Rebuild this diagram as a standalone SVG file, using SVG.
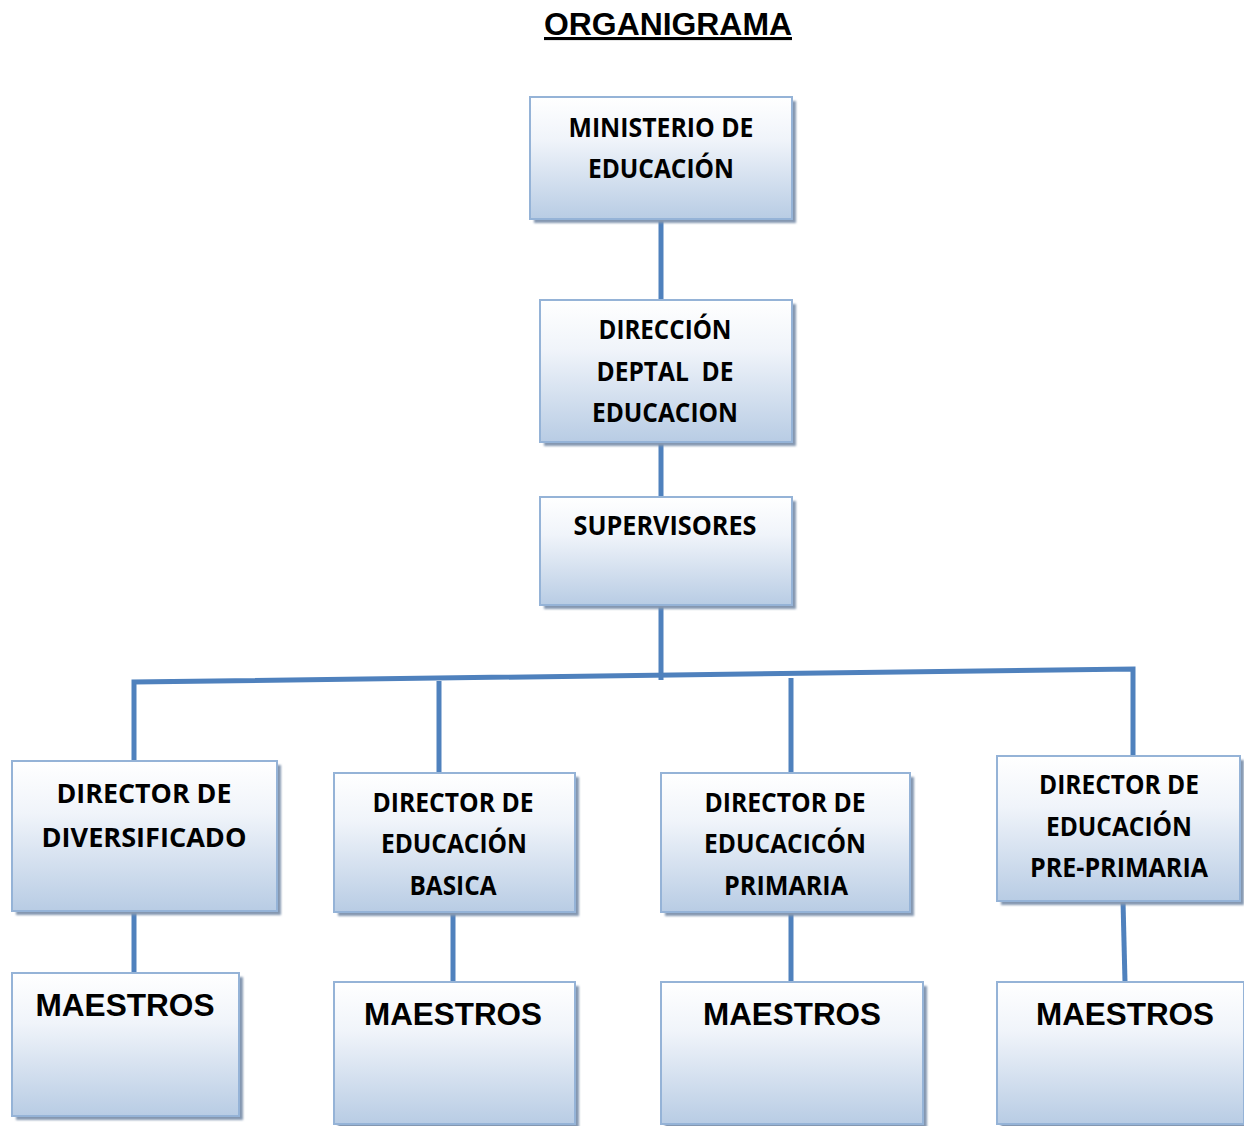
<svg xmlns="http://www.w3.org/2000/svg" width="1244" height="1126" viewBox="0 0 1244 1126">
<defs>
<linearGradient id="g" x1="0" y1="0" x2="0" y2="1">
<stop offset="0" stop-color="#ffffff"/>
<stop offset="0.35" stop-color="#f0f4fa"/>
<stop offset="1" stop-color="#b8cce4"/>
</linearGradient>
<filter id="blur" x="-5%" y="-5%" width="110%" height="110%"><feGaussianBlur stdDeviation="1"/></filter>
</defs>
<style>
.sh{fill:#8497b0;filter:url(#blur)}
.bx{fill:url(#g);stroke:#95b3d7;stroke-width:2}
.t{font-family:"Open Sans","Noto Sans",sans-serif;font-weight:bold;font-size:26px;fill:#000;text-anchor:middle}
.m{font-family:"Liberation Sans",Arial,sans-serif;font-weight:bold;font-size:32px;fill:#000;text-anchor:middle}
.c{stroke:#4f81bd;stroke-width:5;fill:none;stroke-linejoin:miter}
</style>
<rect width="1244" height="1126" fill="#fff"/>
<text x="668" y="35" font-family="Liberation Sans, Arial, sans-serif" font-weight="bold" font-size="31" text-anchor="middle" text-decoration="underline" textLength="248" lengthAdjust="spacingAndGlyphs">ORGANIGRAMA</text>

<g id="connectors">
<line class="c" x1="661" y1="219" x2="661" y2="300"/>
<line class="c" x1="661" y1="442" x2="661" y2="497"/>
<line class="c" x1="661" y1="605" x2="661" y2="680"/>
<polyline class="c" points="134,761 134,682 1133,669 1133,756"/>
<line class="c" x1="439" y1="681" x2="439" y2="773"/>
<line class="c" x1="791" y1="678" x2="791" y2="773"/>
<line class="c" x1="134" y1="911" x2="134" y2="973"/>
<line class="c" x1="453" y1="912" x2="453" y2="982"/>
<line class="c" x1="791" y1="912" x2="791" y2="982"/>
<line class="c" x1="1123" y1="901" x2="1125" y2="982"/>
</g>

<g id="ministerio">
<rect class="sh" x="534" y="101" width="262" height="122"/>
<rect class="bx" x="530" y="97" width="262" height="122"/>
<text class="t" x="661" y="137" textLength="185" lengthAdjust="spacingAndGlyphs">MINISTERIO DE</text>
<text class="t" x="661" y="178" textLength="146" lengthAdjust="spacingAndGlyphs">EDUCACIÓN</text>
</g>

<g id="direccion">
<rect class="sh" x="544" y="304" width="252" height="142"/>
<rect class="bx" x="540" y="300" width="252" height="142"/>
<text class="t" x="665" y="339" textLength="133" lengthAdjust="spacingAndGlyphs">DIRECCIÓN</text>
<text class="t" x="665" y="381" textLength="137" lengthAdjust="spacingAndGlyphs" xml:space="preserve">DEPTAL  DE</text>
<text class="t" x="665" y="422" textLength="146" lengthAdjust="spacingAndGlyphs">EDUCACION</text>
</g>

<g id="supervisores">
<rect class="sh" x="544" y="501" width="252" height="108"/>
<rect class="bx" x="540" y="497" width="252" height="108"/>
<text class="t" x="665" y="535" textLength="183" lengthAdjust="spacingAndGlyphs">SUPERVISORES</text>
</g>

<g id="dir-diversificado">
<rect class="sh" x="16" y="765" width="265" height="150"/>
<rect class="bx" x="12" y="761" width="265" height="150"/>
<text class="t" x="144" y="803" font-size="28" textLength="175" lengthAdjust="spacingAndGlyphs">DIRECTOR DE</text>
<text class="t" x="144" y="847" font-size="28" textLength="205" lengthAdjust="spacingAndGlyphs">DIVERSIFICADO</text>
</g>

<g id="dir-basica">
<rect class="sh" x="338" y="777" width="241" height="139"/>
<rect class="bx" x="334" y="773" width="241" height="139"/>
<text class="t" x="453" y="812" textLength="161" lengthAdjust="spacingAndGlyphs">DIRECTOR DE</text>
<text class="t" x="454" y="853" textLength="146" lengthAdjust="spacingAndGlyphs">EDUCACIÓN</text>
<text class="t" x="453" y="895" textLength="87" lengthAdjust="spacingAndGlyphs">BASICA</text>
</g>

<g id="dir-primaria">
<rect class="sh" x="665" y="777" width="249" height="139"/>
<rect class="bx" x="661" y="773" width="249" height="139"/>
<text class="t" x="785" y="812" textLength="161" lengthAdjust="spacingAndGlyphs">DIRECTOR DE</text>
<text class="t" x="785" y="853" textLength="162" lengthAdjust="spacingAndGlyphs">EDUCACICÓN</text>
<text class="t" x="786" y="895" textLength="124" lengthAdjust="spacingAndGlyphs">PRIMARIA</text>
</g>

<g id="dir-preprimaria">
<rect class="sh" x="1001" y="760" width="243" height="145"/>
<rect class="bx" x="997" y="756" width="243" height="145"/>
<text class="t" x="1119" y="794" textLength="160" lengthAdjust="spacingAndGlyphs">DIRECTOR DE</text>
<text class="t" x="1119" y="836" textLength="146" lengthAdjust="spacingAndGlyphs">EDUCACIÓN</text>
<text class="t" x="1119" y="877" textLength="178" lengthAdjust="spacingAndGlyphs">PRE-PRIMARIA</text>
</g>

<g id="maestros-1">
<rect class="sh" x="16" y="977" width="227" height="143"/>
<rect class="bx" x="12" y="973" width="227" height="143"/>
<text class="m" x="125" y="1016" textLength="179" lengthAdjust="spacingAndGlyphs">MAESTROS</text>
</g>

<g id="maestros-2">
<rect class="sh" x="338" y="986" width="241" height="142"/>
<rect class="bx" x="334" y="982" width="241" height="142"/>
<text class="m" x="453" y="1025" textLength="178" lengthAdjust="spacingAndGlyphs">MAESTROS</text>
</g>

<g id="maestros-3">
<rect class="sh" x="665" y="986" width="262" height="142"/>
<rect class="bx" x="661" y="982" width="262" height="142"/>
<text class="m" x="792" y="1025" textLength="178" lengthAdjust="spacingAndGlyphs">MAESTROS</text>
</g>

<g id="maestros-4">
<rect class="sh" x="1001" y="986" width="247" height="142"/>
<rect class="bx" x="997" y="982" width="247" height="142"/>
<text class="m" x="1125" y="1025" textLength="178" lengthAdjust="spacingAndGlyphs">MAESTROS</text>
</g>
</svg>
